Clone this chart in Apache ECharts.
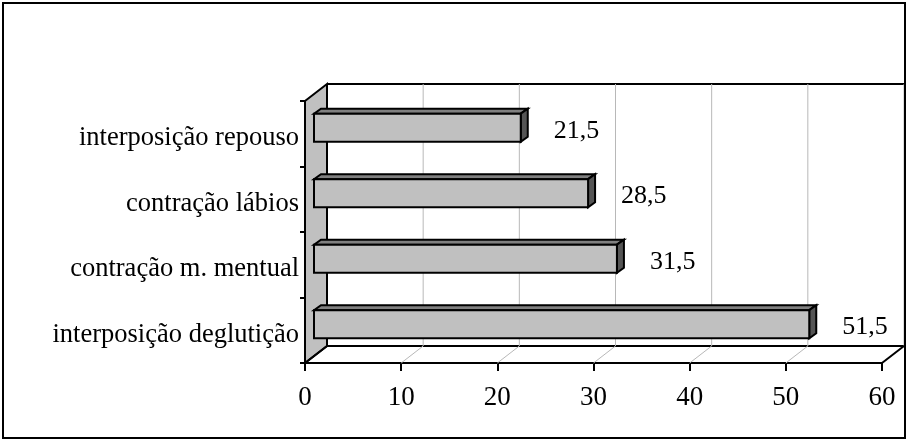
<!DOCTYPE html>
<html>
<head>
<meta charset="utf-8">
<script src="https://cdn.jsdelivr.net/npm/echarts@6/dist/echarts.min.js"></script>
<style>
  html, body { margin: 0; padding: 0; background: #fff; }
  #chart { width: 910px; height: 441px; }
</style>
</head>
<body>
<div id="chart"></div>
<script>
// data, top to bottom as in the picture
const categories = ['interposição repouso', 'contração lábios', 'contração m. mentual', 'interposição deglutição'];
const values = [21.5, 28.5, 31.5, 51.5];
const xTicks = [0, 10, 20, 30, 40, 50, 60];

// 3d look (pixels)
const DX = 22, DY = -17;       // depth of the box
const BDX = 9, BDY = -6;       // where bar front face sits
const TDX = 7, TDY = -5;       // bar thickness
const FONT = 'Liberation Serif, Times New Roman, serif';

const chart = echarts.init(document.getElementById('chart'));

function renderBox(params, api) {
  const cs = params.coordSys;
  const top = cs.y, bottom = cs.y + cs.height;
  const x = api.coord([api.value(0), 0])[0];
  const edge = params.dataIndex === 0 || params.dataIndex === xTicks.length - 1;
  const children = [];
  if (params.dataIndex === 0) {
    const x0 = cs.x, x1 = cs.x + cs.width;
    // left wall
    children.push({
      type: 'polygon',
      shape: { points: [[x0, top], [x0 + DX, top + DY], [x0 + DX, bottom + DY], [x0, bottom]] },
      style: { fill: '#c0c0c0', stroke: '#000', lineWidth: 2 }
    });
    // back wall top edge
    children.push({
      type: 'line',
      shape: { x1: x0 + DX, y1: top + DY, x2: 905, y2: top + DY },
      style: { stroke: '#000', lineWidth: 2 }
    });
    // floor back edge
    children.push({
      type: 'line',
      shape: { x1: x0 + DX, y1: bottom + DY, x2: x1 + DX, y2: bottom + DY },
      style: { stroke: '#000', lineWidth: 2 }
    });
  } else {
    // back grid line
    children.push({
      type: 'line',
      shape: { x1: x + DX, y1: top + DY, x2: x + DX, y2: bottom + DY },
      style: { stroke: '#b8b8b8', lineWidth: 1 }
    });
  }
  // floor diagonal
  children.push({
    type: 'line',
    shape: { x1: x, y1: bottom, x2: x + DX, y2: bottom + DY },
    style: { stroke: edge ? '#000' : '#b8b8b8', lineWidth: edge ? 2 : 1 }
  });
  return { type: 'group', children: children };
}

function renderBar(params, api) {
  const v = api.value(0);
  const start = api.coord([0, api.value(1)]);
  const end = api.coord([v, api.value(1)]);
  const h = api.size([0, 1])[1] * 0.43;
  const xl = start[0] + BDX, xr = end[0] + BDX;
  const yt = start[1] - h / 2 + BDY, yb = start[1] + h / 2 + BDY;
  const line = { stroke: '#000', lineWidth: 2, lineJoin: 'miter' };
  return {
    type: 'group',
    children: [
      { type: 'polygon', shape: { points: [[xl, yt], [xr, yt], [xr + TDX, yt + TDY], [xl + TDX, yt + TDY]] },
        style: Object.assign({ fill: '#808080' }, line) },
      { type: 'polygon', shape: { points: [[xr, yt], [xr + TDX, yt + TDY], [xr + TDX, yb + TDY], [xr, yb]] },
        style: Object.assign({ fill: '#555555' }, line) },
      { type: 'rect', shape: { x: xl, y: yt, width: xr - xl, height: yb - yt },
        style: Object.assign({ fill: '#c0c0c0' }, line) },
      { type: 'text',
        style: { text: String(v).replace('.', ','), x: xr + TDX + 26, y: (yt + yb) / 2 + 3,
                 fill: '#000', fontFamily: FONT, fontSize: 26, align: 'left', verticalAlign: 'middle' } }
    ]
  };
}

const option = {
  backgroundColor: '#fff',
  animation: false,
  graphic: [{
    type: 'rect',
    shape: { x: 3, y: 3, width: 902, height: 435 },
    style: { fill: 'none', stroke: '#000', lineWidth: 2 },
    z: 100
  }],
  grid: { left: 305, top: 101, width: 577, height: 262, containLabel: false },
  xAxis: {
    type: 'value',
    min: 0,
    max: 60,
    interval: 10,
    axisLine: { show: true, lineStyle: { color: '#000', width: 2 } },
    axisTick: { show: true, length: 8, lineStyle: { color: '#000', width: 2 } },
    axisLabel: { color: '#000', fontFamily: FONT, fontSize: 27, margin: 21 },
    splitLine: { show: false }
  },
  yAxis: {
    type: 'category',
    inverse: true,
    data: categories,
    axisLine: { show: true, lineStyle: { color: '#000', width: 2 } },
    axisTick: { show: true, length: 5, lineStyle: { color: '#000', width: 2 } },
    axisLabel: {
      margin: 6,
      formatter: v => '{c|' + v + '}',
      rich: { c: { color: '#000', fontFamily: FONT, fontSize: 26.5, padding: [9, 0, 0, 0] } }
    },
    splitLine: { show: false }
  },
  series: [
    {
      type: 'custom',
      z: 1,
      silent: true,
      renderItem: renderBox,
      encode: { x: 0 },
      data: xTicks.map(t => [t])
    },
    {
      type: 'custom',
      z: 3,
      renderItem: renderBar,
      encode: { x: 0, y: 1 },
      data: values.map((v, i) => [v, categories[i]])
    }
  ]
};

chart.setOption(option);
</script>
</body>
</html>
